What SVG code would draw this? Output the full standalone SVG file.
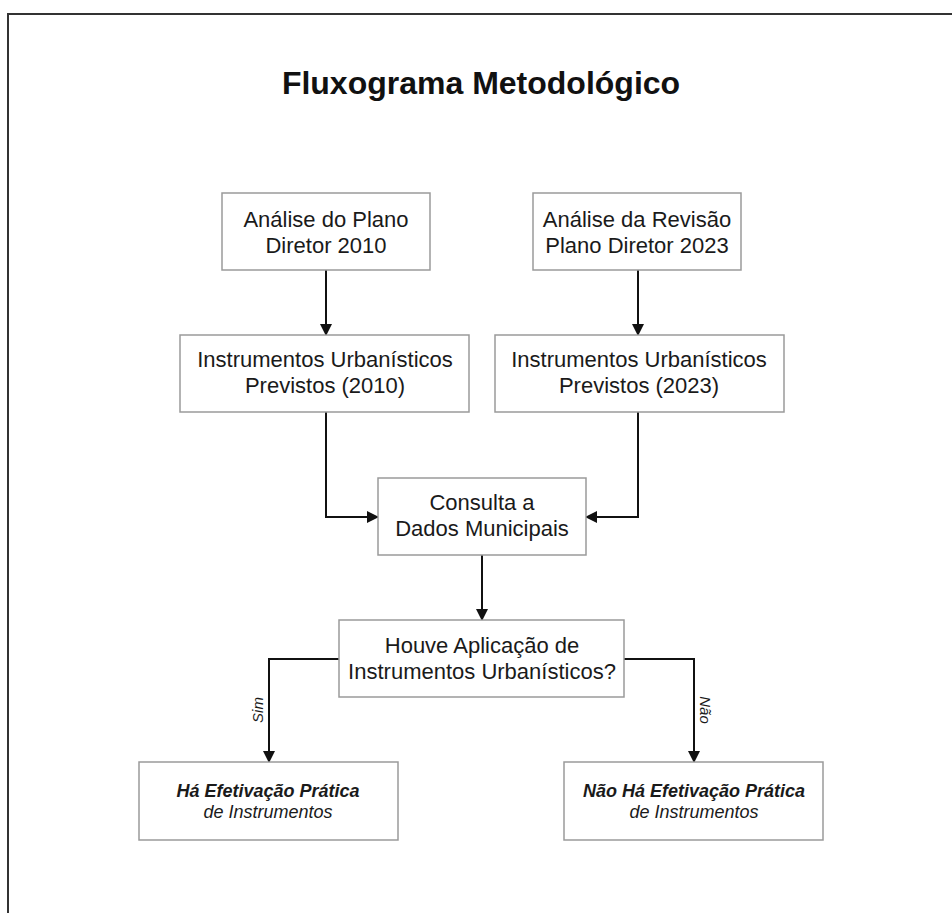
<svg xmlns="http://www.w3.org/2000/svg" width="952" height="913" viewBox="0 0 952 913">
<style>
.box{fill:#fff;stroke:#9a9a9a;stroke-width:1.5}
.t{font-family:"Liberation Sans",Arial,sans-serif;font-size:22px;fill:#1a1a1a;text-anchor:middle}
.bi{font-family:"Liberation Sans",Arial,sans-serif;font-size:18px;font-style:italic;font-weight:bold;fill:#1a1a1a;text-anchor:middle}
.i{font-family:"Liberation Sans",Arial,sans-serif;font-size:18px;font-style:italic;fill:#1a1a1a;text-anchor:middle}
.lbl{font-family:"Liberation Sans",Arial,sans-serif;font-size:15px;font-style:italic;fill:#1a1a1a;text-anchor:middle}
.c{fill:none;stroke:#111;stroke-width:2}
</style>
<defs>
<marker id="ah" markerWidth="12" markerHeight="12" refX="11" refY="6" orient="auto" markerUnits="userSpaceOnUse">
<path d="M0,0 L12,6 L0,12 Z" fill="#111"/>
</marker>
</defs>
<rect x="0" y="0" width="952" height="913" fill="#fff"/>
<path d="M8,913 V14 H952" fill="none" stroke="#333" stroke-width="2"/>
<text x="481" y="94" font-family="'Liberation Sans',Arial,sans-serif" font-size="32" font-weight="bold" text-anchor="middle" fill="#111">Fluxograma Metodológico</text>

<g id="connectors">
<path class="c" d="M326,270 V335" marker-end="url(#ah)"/>
<path class="c" d="M638,270 V335" marker-end="url(#ah)"/>
<path class="c" d="M326,412 V517 H378" marker-end="url(#ah)"/>
<path class="c" d="M638,412 V517 H586" marker-end="url(#ah)"/>
<path class="c" d="M482,555 V620" marker-end="url(#ah)"/>
<path class="c" d="M339,659 H269 V762" marker-end="url(#ah)"/>
<path class="c" d="M624,659 H694 V762" marker-end="url(#ah)"/>
<text class="lbl" transform="translate(263,710) rotate(-90)">Sim</text>
<text class="lbl" transform="translate(700,710) rotate(90)">Não</text>
</g>

<g id="n1">
<rect class="box" x="222" y="193" width="208" height="77"/>
<text class="t" x="326" y="227">Análise do Plano</text>
<text class="t" x="326" y="253">Diretor 2010</text>
</g>
<g id="n2">
<rect class="box" x="533" y="193" width="208" height="77"/>
<text class="t" x="637" y="227">Análise da Revisão</text>
<text class="t" x="637" y="253">Plano Diretor 2023</text>
</g>
<g id="n3">
<rect class="box" x="180" y="335" width="289" height="77"/>
<text class="t" x="325" y="367">Instrumentos Urbanísticos</text>
<text class="t" x="325" y="393">Previstos (2010)</text>
</g>
<g id="n4">
<rect class="box" x="495" y="335" width="289" height="77"/>
<text class="t" x="639" y="367">Instrumentos Urbanísticos</text>
<text class="t" x="639" y="393">Previstos (2023)</text>
</g>
<g id="n5">
<rect class="box" x="378" y="478" width="208" height="77"/>
<text class="t" x="482" y="510">Consulta a</text>
<text class="t" x="482" y="536">Dados Municipais</text>
</g>
<g id="n6">
<rect class="box" x="339" y="620" width="285" height="77"/>
<text class="t" x="482" y="653">Houve Aplicação de</text>
<text class="t" x="482" y="679">Instrumentos Urbanísticos?</text>
</g>
<g id="n7">
<rect class="box" x="139" y="762" width="259" height="78"/>
<text class="bi" x="268" y="797">Há Efetivação Prática</text>
<text class="i" x="268" y="818">de Instrumentos</text>
</g>
<g id="n8">
<rect class="box" x="564" y="762" width="259" height="78"/>
<text class="bi" x="694" y="797">Não Há Efetivação Prática</text>
<text class="i" x="694" y="818">de Instrumentos</text>
</g>
</svg>
